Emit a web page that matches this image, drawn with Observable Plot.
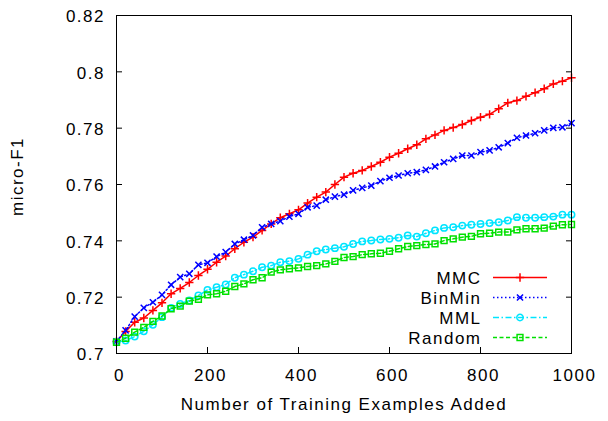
<!DOCTYPE html>
<html><head><meta charset="utf-8">
<script src="https://cdn.jsdelivr.net/npm/d3@7"></script>
<script src="https://cdn.jsdelivr.net/npm/@observablehq/plot@0.6"></script>
<style>
body{margin:0;background:#fff;}
</style></head><body><div id="chart"></div>
<script>
const examples = [0,20,40,60,80,100,120,140,160,180,200,220,240,260,280,300,320,340,360,380,400,420,440,460,480,500,520,540,560,580,600,620,640,660,680,700,720,740,760,780,800,820,840,860,880,900,920,940,960,980,1000];
const mmc = [0.7043,0.7078,0.7111,0.7126,0.7153,0.7180,0.7212,0.7231,0.7252,0.7277,0.7299,0.7324,0.7346,0.7372,0.7395,0.7413,0.7437,0.7460,0.7482,0.7496,0.7510,0.7534,0.7555,0.7573,0.7600,0.7626,0.7640,0.7650,0.7664,0.7679,0.7697,0.7711,0.7727,0.7741,0.7762,0.7776,0.7792,0.7802,0.7813,0.7827,0.7839,0.7849,0.7869,0.7890,0.7898,0.7913,0.7926,0.7940,0.7957,0.7967,0.7979];
const binMin = [0.7043,0.7082,0.7131,0.7162,0.7182,0.7208,0.7244,0.7271,0.7283,0.7315,0.7322,0.7344,0.7360,0.7389,0.7404,0.7419,0.7448,0.7460,0.7470,0.7486,0.7496,0.7519,0.7525,0.7546,0.7557,0.7564,0.7579,0.7588,0.7596,0.7612,0.7624,0.7632,0.7640,0.7644,0.7652,0.7664,0.7679,0.7691,0.7703,0.7703,0.7715,0.7721,0.7732,0.7747,0.7766,0.7774,0.7782,0.7792,0.7801,0.7803,0.7818];
const mml = [0.7040,0.7046,0.7060,0.7079,0.7102,0.7129,0.7162,0.7176,0.7188,0.7206,0.7226,0.7235,0.7245,0.7269,0.7280,0.7292,0.7306,0.7312,0.7324,0.7328,0.7336,0.7351,0.7363,0.7369,0.7374,0.7379,0.7389,0.7398,0.7401,0.7405,0.7407,0.7411,0.7419,0.7415,0.7427,0.7437,0.7446,0.7448,0.7454,0.7457,0.7460,0.7463,0.7466,0.7472,0.7484,0.7482,0.7482,0.7484,0.7486,0.7493,0.7493];
const random = [0.7040,0.7054,0.7076,0.7093,0.7114,0.7133,0.7159,0.7168,0.7186,0.7192,0.7208,0.7212,0.7221,0.7238,0.7247,0.7262,0.7269,0.7289,0.7297,0.7301,0.7304,0.7309,0.7312,0.7318,0.7327,0.7341,0.7344,0.7351,0.7354,0.7356,0.7363,0.7372,0.7380,0.7383,0.7387,0.7389,0.7401,0.7407,0.7413,0.7416,0.7425,0.7427,0.7431,0.7431,0.7439,0.7443,0.7443,0.7445,0.7452,0.7457,0.7458];
const seriesNames = ["MMC","BinMin","MML","Random"];
const xTicks = [0,200,400,600,800,1000];
const xTickLabels = ["0","200","400","600","800","1000"];
const yTicks = [0.7,0.72,0.74,0.76,0.78,0.8,0.82];
const yTickLabels = ["0.7","0.72","0.74","0.76","0.78","0.8","0.82"];
const xLabel = "Number of Training Examples Added";
const yLabel = "micro-F1";

const seriesValues = [mmc, binMin, mml, random];
const styles = {
  MMC:    {color:"#ff0000", dash:null,            symbol:"plus",   r:2.8},
  BinMin: {color:"#0000ff", dash:"1.5,2.5",       symbol:"times",  r:2.9},
  MML:    {color:"#00e5ff", dash:"6,2.5,1.5,2.5", symbol:"circle", r:3.2},
  Random: {color:"#00e000", dash:"4,2.5",         symbol:"square", r:3.3}
};
const d3Symbols = {plus:d3.symbolPlus, times:d3.symbolTimes, circle:d3.symbolCircle, square:d3.symbolSquare};

const tables = seriesNames.map((name, i) => examples.map((x, j) => ({series:name, x, y:seriesValues[i][j]})));

const FONT = "17px";
const LS = "1.5px";

function legend(index, scales, values, dimensions) {
  const right = dimensions.width - dimensions.marginRight;
  const bottom = dimensions.height - dimensions.marginBottom;
  const g = d3.create("svg:g");
  seriesNames.forEach((name, i) => {
    const st = styles[name];
    const cy = bottom - 75 + i * 20;
    g.append("text")
      .attr("x", right - 89.5).attr("y", cy).attr("dy", "0.35em")
      .attr("text-anchor", "end").attr("fill", "black")
      .style("font-size", FONT).style("letter-spacing", LS)
      .text(name);
    g.append("line")
      .attr("x1", right - 78).attr("x2", right - 24)
      .attr("y1", cy - 0.5).attr("y2", cy - 0.5)
      .attr("stroke", st.color).attr("stroke-width", 1.5)
      .attr("stroke-dasharray", st.dash);
    g.append("path")
      .attr("transform", `translate(${right - 51},${cy - 0.5})`)
      .attr("d", d3.symbol(d3Symbols[st.symbol], Math.PI * st.r * st.r)())
      .attr("fill", "none").attr("stroke", st.color).attr("stroke-width", 1.5);
  });
  return g.node();
}

const marks = [];
seriesNames.forEach((name, i) => {
  const st = styles[name];
  marks.push(Plot.line(tables[i], {x:"x", y:"y", stroke:st.color, strokeWidth:1.5, strokeDasharray:st.dash}));
  marks.push(Plot.dot(tables[i], {x:"x", y:"y", symbol:st.symbol, stroke:st.color, fill:"none", r:st.r, strokeWidth:1.5}));
});

const plot = Plot.plot({
  width: 608,
  height: 421,
  marginLeft: 116,
  marginRight: 37,
  marginTop: 15,
  marginBottom: 68,
  style: {fontFamily: "'Liberation Sans', Arial, sans-serif", fontSize: FONT, letterSpacing: LS, background: "white", color: "black"},
  x: {domain: [0, 1000], axis: null},
  y: {domain: [0.7, 0.82], axis: null},
  marks: [
    // inward tick marks
    Plot.axisX({anchor:"bottom", ticks:xTicks, tickSize:6, dy:-6, tickFormat:() => "", label:null, stroke:"black"}),
    Plot.axisY({anchor:"left", ticks:yTicks, tickSize:6, dx:6, tickFormat:() => "", label:null, stroke:"black"}),
    Plot.axisY({anchor:"right", ticks:yTicks, tickSize:6, dx:-6, tickFormat:() => "", label:null, stroke:"black"}),
    // tick labels
    Plot.axisX({anchor:"bottom", ticks:xTicks, tickSize:0, tickPadding:15, dx:3, label:null, fill:"black", fontSize:FONT,
      tickFormat:(d) => xTickLabels[xTicks.indexOf(d)]}),
    Plot.axisY({anchor:"left", ticks:yTicks, tickSize:0, tickPadding:11.5, dy:1.5, label:null, fill:"black", fontSize:FONT,
      tickFormat:(d) => yTickLabels[yTicks.indexOf(d)]}),
    ...marks,
    Plot.frame({stroke:"black", strokeWidth:1}),
    Plot.text([xLabel], {frameAnchor:"bottom", dy:51, lineAnchor:"middle", textAnchor:"middle", fill:"black", fontSize:FONT}),
    Plot.text([yLabel], {frameAnchor:"left", dx:-98.5, dy:-8, rotate:-90, lineAnchor:"middle", textAnchor:"middle", fill:"black", fontSize:FONT}),
    legend
  ]
});
document.getElementById("chart").appendChild(plot);
</script>
</body></html>
